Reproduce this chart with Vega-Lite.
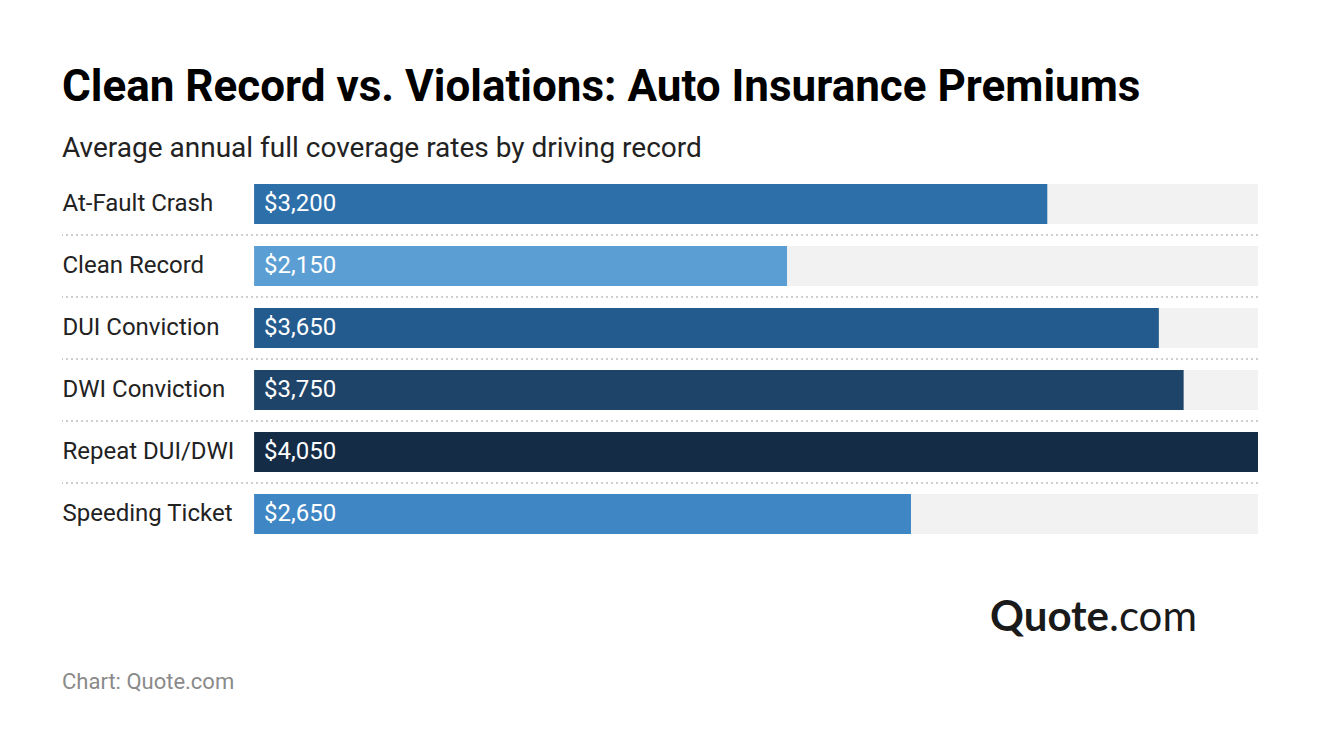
{
  "$schema": "https://vega.github.io/schema/vega-lite/v6.json",
  "padding": {"left": 61, "top": 66, "right": 0, "bottom": 0},
  "background": "#ffffff",
  "spacing": 0,
  "title": {
    "text": "Clean Record vs. Violations: Auto Insurance Premiums",
    "subtitle": "Average annual full coverage rates by driving record",
    "anchor": "start",
    "dx": 1,
    "font": "Roboto",
    "fontSize": 44,
    "fontWeight": "bold",
    "color": "#000000",
    "subtitleFont": "Roboto",
    "subtitleFontSize": 28,
    "subtitleColor": "#222222",
    "subtitlePadding": 25,
    "offset": 10
  },
  "config": {"view": {"stroke": null}},
  "vconcat": [
    {
      "width": 1196,
      "height": 372,
      "data": {
        "values": [
          {"category": "At-Fault Crash", "value": 3200},
          {"category": "Clean Record", "value": 2150},
          {"category": "DUI Conviction", "value": 3650},
          {"category": "DWI Conviction", "value": 3750},
          {"category": "Repeat DUI/DWI", "value": 4050},
          {"category": "Speeding Ticket", "value": 2650}
        ]
      },
      "transform": [{"joinaggregate": [{"op": "max", "field": "value", "as": "maxv"}]}],
      "encoding": {
        "y": {
          "field": "category",
          "type": "nominal",
          "sort": null,
          "scale": {"paddingInner": 0.355, "paddingOuter": 0.1775},
          "axis": {
            "title": null,
            "domain": false,
            "ticks": false,
            "labelAlign": "left",
            "labelPadding": 0,
            "labelFont": "Roboto",
            "labelFontSize": 24,
            "labelColor": "#222222",
            "zindex": 1
          }
        }
      },
      "layer": [
        {
          "transform": [{"filter": "datum.category !== 'Speeding Ticket'"}],
          "mark": {"type": "rule", "color": "#cfcfcf", "strokeWidth": 2, "strokeDash": [2, 3], "yOffset": 31}
        },
        {
          "mark": {"type": "bar", "color": "#f2f2f2"},
          "encoding": {
            "x": {"field": "maxv", "type": "quantitative", "stack": null, "scale": {"domain": [-775, 4050], "nice": false, "zero": false}, "axis": null}
          }
        },
        {
          "mark": {"type": "bar"},
          "encoding": {
            "x": {"field": "value", "type": "quantitative", "stack": null},
            "color": {
              "field": "category",
              "type": "nominal",
              "legend": null,
              "scale": {
                "domain": ["At-Fault Crash", "Clean Record", "DUI Conviction", "DWI Conviction", "Repeat DUI/DWI", "Speeding Ticket"],
                "range": ["#2d6fa9", "#5b9ed3", "#245b8e", "#1f4469", "#142c45", "#3f86c4"]
              }
            }
          }
        },
        {
          "mark": {"type": "text", "align": "left", "baseline": "middle", "font": "Roboto", "fontSize": 24, "color": "#ffffff", "dx": 10},
          "encoding": {
            "x": {"datum": 0, "type": "quantitative"},
            "text": {"field": "value", "type": "quantitative", "format": "$,.0f"}
          }
        }
      ]
    },
    {
      "width": 1196,
      "height": 160,
      "layer": [
        {
          "data": {"values": [{"x": 1047, "y": 87, "t": "Quote"}]},
          "mark": {"type": "text", "align": "right", "baseline": "middle", "font": "Lato", "fontWeight": "bold", "fontSize": 42, "color": "#1a1a1a"},
          "encoding": {
            "x": {"field": "x", "type": "quantitative", "scale": {"domain": [0, 1196], "nice": false, "zero": false}, "axis": null},
            "y": {"field": "y", "type": "quantitative", "scale": {"domain": [0, 160], "nice": false, "zero": false}, "axis": null},
            "text": {"field": "t", "type": "nominal"}
          }
        },
        {
          "data": {"values": [{"x": 1047, "y": 87, "t": ".com"}]},
          "mark": {"type": "text", "align": "left", "baseline": "middle", "font": "Lato", "fontSize": 42, "color": "#1a1a1a"},
          "encoding": {
            "x": {"field": "x", "type": "quantitative"},
            "y": {"field": "y", "type": "quantitative"},
            "text": {"field": "t", "type": "nominal"}
          }
        },
        {
          "data": {"values": [{"x": 0, "y": 23, "t": "Chart: Quote.com"}]},
          "mark": {"type": "text", "align": "left", "baseline": "middle", "font": "Roboto", "fontSize": 22, "color": "#8a8a8a"},
          "encoding": {
            "x": {"field": "x", "type": "quantitative"},
            "y": {"field": "y", "type": "quantitative"},
            "text": {"field": "t", "type": "nominal"}
          }
        }
      ]
    }
  ]
}
